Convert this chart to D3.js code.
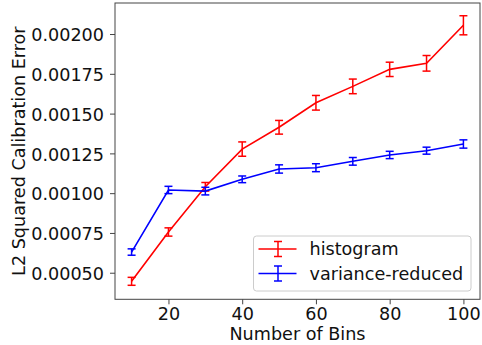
<!DOCTYPE html>
<html>
<head>
<meta charset="utf-8">
<script src="https://cdn.jsdelivr.net/npm/d3@7"></script>
<style>
  html, body { margin: 0; padding: 0; background: #fff; }
  svg { display: block; font-family: "DejaVu Sans", sans-serif; }
</style>
</head>
<body>
<svg id="chart" width="482" height="345"></svg>
<script>
// Number of bins on the x axis
const bins = [10, 20, 30, 40, 50, 60, 70, 80, 90, 100];

// Mean L2 squared calibration error per estimator, with error-bar half widths
const histogram = [0.000446, 0.000756, 0.00104, 0.001277, 0.001414, 0.001568, 0.001671, 0.001778, 0.001816, 0.002055];
const histogramErr = [0.000025, 0.000026, 0.000027, 0.000045, 0.000043, 0.000046, 0.000046, 0.000045, 0.000049, 0.00006];
const varianceReduced = [0.00063, 0.00102, 0.001013, 0.001087, 0.001152, 0.00116, 0.0012, 0.00124, 0.001267, 0.001309];
const varianceReducedErr = [0.00002, 0.000023, 0.000024, 0.000021, 0.000026, 0.000025, 0.000024, 0.000023, 0.000022, 0.000026];

const xTicks = [20, 40, 60, 80, 100];
const yTicks = [0.0005, 0.00075, 0.001, 0.00125, 0.0015, 0.00175, 0.002];

const seriesList = [
  { name: "histogram", color: "#ff0000", values: histogram, errors: histogramErr },
  { name: "variance-reduced", color: "#0000ff", values: varianceReduced, errors: varianceReducedErr }
];

const svg = d3.select("#chart");
const plot = { left: 115, right: 480, top: 3, bottom: 299.3 };

const x = d3.scaleLinear().domain([5.5, 104.5]).range([plot.left, plot.right]);
const y = d3.scaleLinear().domain([0.000333, 0.002195]).range([plot.bottom, plot.top]);

const FONT = 17.6;
const capHalf = 4;

// Axes
const xAxis = svg.append("g")
  .attr("transform", `translate(0,${plot.bottom})`)
  .call(d3.axisBottom(x).tickValues(xTicks).tickSize(5).tickPadding(3).tickFormat(d3.format("d")));
const yAxis = svg.append("g")
  .attr("transform", `translate(${plot.left},0)`)
  .call(d3.axisLeft(y).tickValues(yTicks).tickSize(5).tickPadding(6).tickFormat(d3.format(".5f")));

[xAxis, yAxis].forEach(g => {
  g.select(".domain").remove();
  g.selectAll(".tick line").attr("stroke", "#444").attr("stroke-width", 1);
  g.selectAll(".tick text")
    .attr("font-family", "DejaVu Sans")
    .attr("font-size", FONT)
    .attr("fill", "#111");
});
xAxis.selectAll(".tick text").attr("dy", "0.71em");
yAxis.selectAll(".tick text").attr("dy", "0.38em");

// Frame around the plotting area
svg.append("rect")
  .attr("x", plot.left).attr("y", plot.top)
  .attr("width", plot.right - plot.left).attr("height", plot.bottom - plot.top)
  .attr("fill", "none").attr("stroke", "#444").attr("stroke-width", 1);

// Series: connecting line plus error bars with caps
const line = d3.line().x(d => x(d.bin)).y(d => y(d.value));

seriesList.forEach(s => {
  const pts = bins.map((b, i) => ({ bin: b, value: s.values[i], err: s.errors[i] }));
  const g = svg.append("g");
  g.append("path")
    .datum(pts)
    .attr("d", line)
    .attr("fill", "none")
    .attr("stroke", s.color)
    .attr("stroke-width", 1.6);
  const bars = g.selectAll("g.err").data(pts).enter().append("g").attr("class", "err")
    .attr("stroke", s.color).attr("stroke-width", 1.5);
  bars.append("line")
    .attr("x1", d => x(d.bin)).attr("x2", d => x(d.bin))
    .attr("y1", d => y(d.value - d.err)).attr("y2", d => y(d.value + d.err));
  bars.append("line")
    .attr("x1", d => x(d.bin) - capHalf).attr("x2", d => x(d.bin) + capHalf)
    .attr("y1", d => y(d.value + d.err)).attr("y2", d => y(d.value + d.err));
  bars.append("line")
    .attr("x1", d => x(d.bin) - capHalf).attr("x2", d => x(d.bin) + capHalf)
    .attr("y1", d => y(d.value - d.err)).attr("y2", d => y(d.value - d.err));
});

// Axis titles
svg.append("text")
  .attr("x", (plot.left + plot.right) / 2).attr("y", 340)
  .attr("text-anchor", "middle")
  .attr("font-size", FONT).attr("fill", "#111")
  .text("Number of Bins");
svg.append("text")
  .attr("transform", `translate(25,${(plot.top + plot.bottom) / 2}) rotate(-90)`)
  .attr("text-anchor", "middle")
  .attr("font-size", FONT).attr("fill", "#111")
  .text("L2 Squared Calibration Error");

// Legend
const legend = svg.append("g").attr("transform", "translate(253.5,236)");
legend.append("rect")
  .attr("width", 217.5).attr("height", 55)
  .attr("rx", 3).attr("ry", 3)
  .attr("fill", "#fff").attr("fill-opacity", 0.8)
  .attr("stroke", "#cccccc").attr("stroke-width", 1);
seriesList.forEach((s, i) => {
  const cy = 13 + i * 24.5;
  const item = legend.append("g").attr("transform", `translate(0,${cy})`);
  item.append("line")
    .attr("x1", 5).attr("x2", 43).attr("y1", 0).attr("y2", 0)
    .attr("stroke", s.color).attr("stroke-width", 1.6);
  item.append("line")
    .attr("x1", 24.5).attr("x2", 24.5).attr("y1", -7.5).attr("y2", 7.5)
    .attr("stroke", s.color).attr("stroke-width", 1.5);
  [-7.5, 7.5].forEach(dy => item.append("line")
    .attr("x1", 24.5 - capHalf).attr("x2", 24.5 + capHalf).attr("y1", dy).attr("y2", dy)
    .attr("stroke", s.color).attr("stroke-width", 1.5));
  item.append("text")
    .attr("x", 56).attr("y", 0).attr("dy", "0.35em")
    .attr("font-size", FONT).attr("fill", "#111")
    .text(s.name);
});
</script>
</body>
</html>
